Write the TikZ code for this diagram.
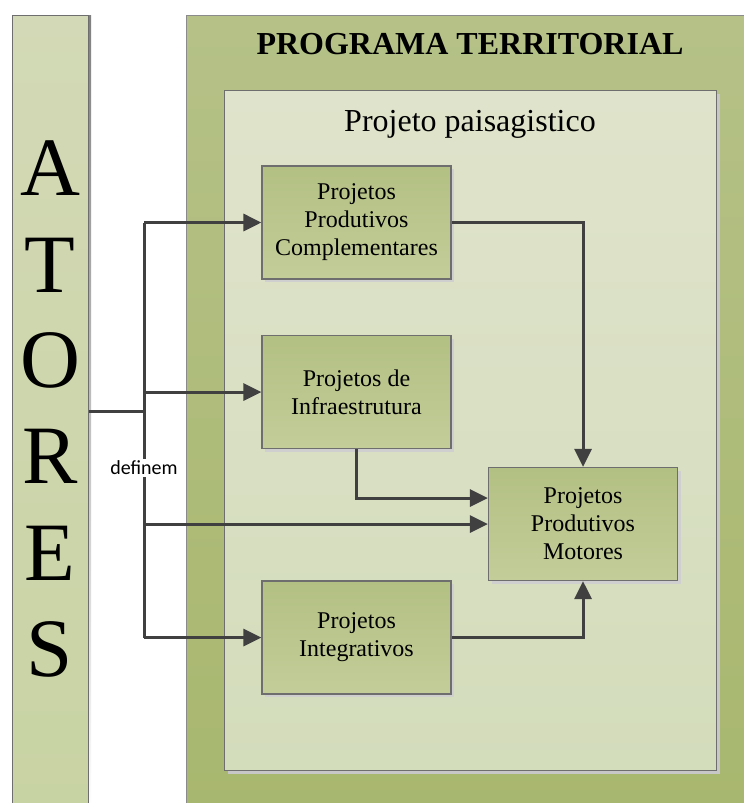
\documentclass[tikz,border=0pt]{standalone}
\usepackage{fontspec}
\setmainfont{Liberation Serif}
\newfontfamily\labelfont{Carlito}
\usetikzlibrary{arrows.meta,shadows,calc}

\definecolor{barTop}{HTML}{D3D9B6}
\definecolor{barBot}{HTML}{C8D3A3}
\definecolor{outerTop}{HTML}{B5C187}
\definecolor{outerBot}{HTML}{A8B76E}
\definecolor{innerTop}{HTML}{DFE3CB}
\definecolor{innerBot}{HTML}{D3DCBB}
\definecolor{boxTop}{HTML}{B3C083}
\definecolor{boxBot}{HTML}{C3CD99}
\definecolor{edge}{HTML}{6E6E6E}
\definecolor{wire}{HTML}{404040}
\definecolor{shade}{HTML}{CFCFCF}

\tikzset{
  frame/.style={draw=edge, line width=1.2pt, rectangle, inner sep=0pt},
  projbox/.style={frame, top color=boxTop, bottom color=boxBot,
    minimum width=189pt, minimum height=113pt, align=center,
    font=\fontsize{24}{28}\selectfont,
    drop shadow={shadow xshift=3pt, shadow yshift=-3pt, fill=shade, opacity=1}},
  wireline/.style={draw=wire, line width=3pt},
  arrowline/.style={wireline, -{Triangle[length=18pt,width=17pt]}},
}

\begin{document}
\begin{tikzpicture}[x=1pt, y=-1pt]
\useasboundingbox (0,0) rectangle (744,803);
\clip (0,0) rectangle (744,803);
\fill[white] (0,0) rectangle (744,803);

% actors column
\fill[shade] (88,15) rectangle (91,820);
\node[frame, top color=barTop, bottom color=barBot, anchor=north west,
      minimum width=76pt, minimum height=805pt] (bar) at (12,15) {};
\foreach \ch/\yb [count=\i] in {A/195,T/292,O/387,R/483,E/580,S/676}
  \node[anchor=base, inner sep=0pt, font=\fontsize{83}{90}\selectfont] (l\i) at (50,\yb) {\ch};

% territorial programme frame
\node[draw=edge!80, line width=1.2pt, top color=outerTop, bottom color=outerBot,
      anchor=north west, minimum width=600pt, minimum height=805pt, inner sep=0pt]
      (prog) at (186,15) {};
\node[anchor=base, inner sep=0pt, font=\bfseries\fontsize{32}{36}\selectfont] (title)
      at (470,54) {PROGRAMA TERRITORIAL};

% landscape project frame
\node[frame, top color=innerTop, bottom color=innerBot, anchor=north west,
      minimum width=492pt, minimum height=680pt,
      drop shadow={shadow xshift=3pt, shadow yshift=-3pt, fill=black!22, opacity=1}]
      (land) at (224,90) {};
\node[anchor=base, inner sep=0pt, font=\fontsize{32}{36}\selectfont] (subtitle)
      at (470,131) {Projeto paisagistico};

% project boxes
\node[projbox] (ppc)   at (356.5,222.5) {Projetos\\Produtivos\\Complementares};
\node[projbox] (infra) at (356.5,392)   {Projetos de\\Infraestrutura};
\node[projbox] (mot)   at (583,524)     {Projetos\\Produtivos\\Motores};
\node[projbox] (integ) at (356.5,637.5) {Projetos\\Integrativos};

% connectors
\coordinate (split) at (144,411.5);
\draw[wireline] (bar.east |- split) -- (split);
\draw[wireline] (ppc.west -| split) -- (integ.west -| split);
\draw[arrowline] (ppc.west -| split) -- (ppc.west);
\draw[arrowline] (infra.west -| split) -- (infra.west);
\draw[arrowline] (mot.west -| split) -- (mot.west);
\draw[arrowline] (integ.west -| split) -- (integ.west);
\draw[arrowline] (infra.south) |- ([yshift=26pt]mot.west);
\draw[arrowline] (ppc.east) -| (mot.north);
\draw[arrowline] (integ.east) -| (mot.south);

\node[fill=white, inner sep=2pt, font=\labelfont\fontsize{20}{24}\selectfont] (definem)
      at (144,468) {definem};
\end{tikzpicture}
\end{document}
